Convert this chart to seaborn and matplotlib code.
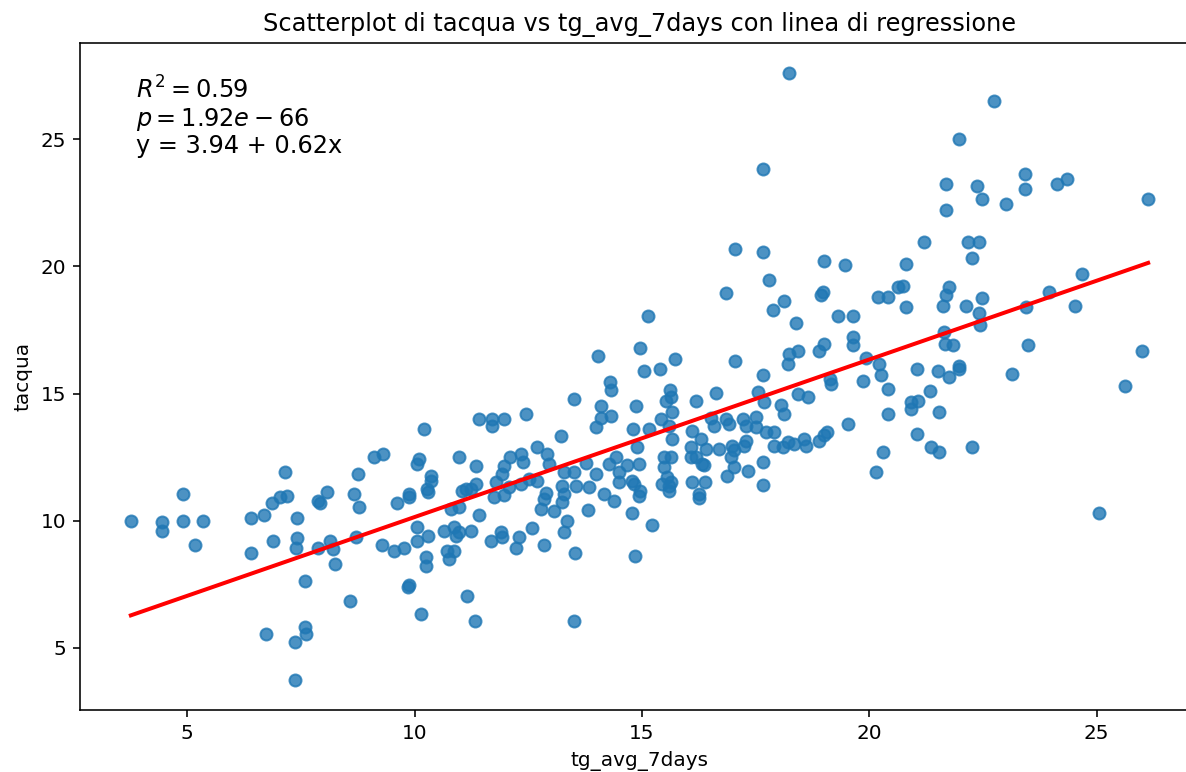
import matplotlib
matplotlib.use("Agg")
import matplotlib.pyplot as plt
import seaborn as sns
import pandas as pd

# Daily observations: 7-day mean air temperature vs water temperature
tg_avg_7days = [
    18.23, 17.66, 17.04, 17.66, 19.00, 19.47, 20.80, 22.73, 21.97, 21.68,
    21.68, 22.36, 22.48, 23.01, 23.43, 23.43, 24.12, 24.34, 26.13, 21.20,
    22.16, 22.42, 22.25, 24.67,
    17.79, 16.84, 18.97, 18.93, 18.12, 17.89, 18.38, 19.30, 19.63, 20.18,
    20.40, 20.62, 20.73, 20.80, 15.14, 14.95, 15.04, 15.39, 15.72, 17.04,
    18.23, 18.42, 18.22, 19.00, 18.89, 19.63, 19.63, 19.92, 20.21, 20.25,
    19.13, 19.15, 19.85, 20.40, 20.40, 19.52, 20.29, 20.14, 17.67, 17.54,
    17.68, 16.62, 16.18, 15.62, 15.52, 15.63, 14.86, 18.42, 18.64, 18.05,
    18.12, 15.41, 15.67, 15.59, 16.51, 16.58, 16.84, 16.91, 17.21, 17.28,
    17.50, 17.50, 17.72, 17.90, 14.80, 15.15, 15.67, 16.11, 16.29, 16.07,
    16.40, 16.69, 16.99, 17.02, 17.24, 17.28, 17.90, 18.09, 18.20, 18.34,
    18.56, 18.60, 18.89, 19.00, 19.06, 14.90, 14.93, 15.48, 15.63, 15.48,
    15.56, 15.63, 15.59, 16.07, 16.18, 16.33, 16.36, 16.95, 17.02, 16.88,
    17.32, 17.67, 17.67, 16.11, 16.38, 16.25, 14.82, 14.95, 15.45, 15.59,
    23.94, 24.52, 23.44, 23.48, 23.13, 25.99, 25.63, 22.47, 22.40, 22.43,
    22.12, 21.75, 21.68, 21.62, 21.64, 21.66, 21.83, 21.04, 21.50, 21.75,
    21.96, 21.98, 21.33, 20.91, 21.06, 20.91, 21.53, 21.04, 21.35, 21.53,
    22.25, 25.04,
    14.04, 14.29, 14.31, 13.50, 14.09, 14.31, 14.10, 13.98, 12.44, 11.41,
    11.71, 11.96, 11.71, 10.20, 13.22, 12.70, 12.92, 12.09, 12.34, 12.38,
    10.97, 11.34, 11.96, 11.92, 9.10, 9.31, 10.09, 10.05, 8.75, 10.37,
    10.35, 11.12, 11.34, 9.87, 10.28, 12.95, 13.28, 13.50, 13.76, 13.98,
    14.27, 14.42, 14.49, 14.68, 14.79, 13.25, 13.54, 13.83, 14.16, 14.49,
    12.70, 12.33, 12.51, 11.78, 12.07,
    7.16, 4.90, 7.03, 7.19, 8.07, 8.66, 3.76, 4.44, 4.44, 4.90,
    5.34, 5.16, 6.40, 6.68, 6.86, 7.41, 6.40, 6.88, 7.41, 7.40,
    7.88, 7.91, 8.77, 7.88, 8.15, 8.20, 8.72, 8.24, 7.60, 8.57,
    6.74, 7.60, 7.62, 7.38, 7.38,
    9.61, 9.87, 10.30, 9.28, 9.54, 9.76, 10.05, 10.05, 10.30, 10.26,
    10.26, 9.87, 9.85, 10.15, 10.64, 10.86, 10.90, 10.97, 11.23, 10.71,
    10.86, 10.75, 10.79, 10.97, 11.41, 11.04, 11.23, 11.15, 11.32, 11.67,
    11.89, 11.92, 12.22, 12.29, 12.59, 12.84, 11.74, 11.96, 12.77, 13.06,
    12.84, 12.88, 13.24, 13.28, 13.36, 13.28, 13.52, 13.50, 13.82, 14.38,
    14.77, 14.84, 14.93, 15.21, 16.25,
]

tacqua = [
    27.60, 23.85, 20.67, 20.57, 20.20, 20.05, 20.08, 26.51, 25.03, 23.24,
    22.24, 23.15, 22.64, 22.44, 23.65, 23.03, 23.23, 23.44, 22.64, 20.96,
    20.96, 20.96, 20.35, 19.70,
    19.48, 18.96, 18.99, 18.86, 18.66, 18.27, 17.77, 18.07, 18.07, 18.80,
    18.80, 19.19, 19.25, 18.40, 18.07, 16.80, 15.88, 15.97, 16.37, 16.28,
    16.54, 16.67, 16.17, 16.96, 16.67, 17.22, 16.89, 16.41, 16.17, 15.71,
    15.58, 15.38, 15.51, 15.19, 14.20, 13.81, 12.69, 11.91, 15.71, 15.06,
    14.66, 15.02, 14.72, 15.15, 14.72, 14.86, 14.49, 14.99, 14.86, 14.53,
    14.20, 14.00, 14.27, 13.74, 14.04, 13.74, 14.00, 13.81, 14.00, 13.74,
    14.07, 13.68, 13.48, 13.48, 13.61, 13.61, 13.22, 13.54, 13.22, 12.91,
    12.82, 12.82, 12.95, 12.76, 12.95, 13.15, 12.95, 12.89, 13.09, 13.02,
    13.22, 12.95, 13.15, 13.35, 13.48, 12.89, 12.23, 12.50, 12.52, 12.10,
    11.71, 11.51, 11.38, 12.52, 12.52, 12.23, 12.17, 12.50, 12.10, 11.77,
    11.97, 12.30, 11.40, 11.51, 11.51, 11.05, 11.44, 11.18, 11.44, 11.18,
    18.99, 18.46, 18.40, 16.89, 15.78, 16.67, 15.29, 18.77, 18.16, 17.68,
    18.46, 19.19, 18.86, 18.46, 17.42, 16.96, 16.89, 15.97, 15.88, 15.67,
    16.10, 15.97, 15.09, 14.66, 14.72, 14.40, 14.29, 13.39, 12.91, 12.69,
    12.91, 10.30,
    16.47, 15.45, 15.15, 14.79, 14.49, 14.10, 14.04, 13.68, 14.20, 14.00,
    14.00, 14.00, 13.74, 13.61, 13.31, 12.91, 12.63, 12.52, 12.63, 12.30,
    12.52, 12.13, 12.13, 11.84, 12.52, 12.63, 12.43, 12.23, 11.82, 11.77,
    11.57, 11.25, 11.44, 11.05, 11.25, 12.23, 11.91, 11.91, 12.26, 11.84,
    12.23, 12.50, 11.91, 12.17, 11.57, 11.38, 11.38, 11.31, 11.05, 11.51,
    11.57, 11.44, 11.64, 11.51, 11.31,
    11.90, 11.05, 10.92, 10.98, 11.14, 11.05, 10.00, 9.94, 9.61, 10.00,
    10.00, 9.02, 10.11, 10.22, 10.70, 10.11, 8.72, 9.21, 9.32, 8.93,
    10.79, 10.70, 10.53, 8.91, 9.21, 8.89, 9.35, 8.30, 7.61, 6.83,
    5.54, 5.80, 5.54, 5.24, 3.74,
    10.70, 10.92, 11.14, 9.02, 8.82, 8.91, 9.74, 9.21, 9.41, 8.56,
    8.20, 7.47, 7.38, 6.33, 9.61, 9.74, 9.41, 9.54, 9.61, 8.82,
    8.82, 8.49, 10.46, 10.53, 10.22, 11.18, 11.25, 7.05, 6.04, 9.21,
    9.54, 9.35, 8.91, 9.35, 9.70, 9.02, 10.92, 11.01, 10.46, 10.39,
    10.85, 11.09, 10.72, 11.05, 10.00, 9.54, 8.73, 6.04, 10.43, 10.79,
    10.30, 8.62, 10.98, 9.83, 10.89,
]

# Fitted regression summary
r_squared = 0.59
p_value_text = "1.92e-66"
intercept = 3.94
slope = 0.62

df = pd.DataFrame({"tg_avg_7days": tg_avg_7days, "tacqua": tacqua})

fig = plt.figure(figsize=(1186 / 144, 772 / 144), dpi=144)
ax = fig.add_axes([80 / 1186, 62 / 772, 1119 / 1186, 667 / 772])

sns.regplot(data=df, x="tg_avg_7days", y="tacqua", fit_reg=False,
            color="#1f77b4", ax=ax)

# Regression line over the observed temperature range
x_min, x_max = df["tg_avg_7days"].min(), df["tg_avg_7days"].max()
line_df = pd.DataFrame({"x": [x_min, x_max]})
line_df["y"] = intercept + slope * line_df["x"]
sns.lineplot(data=line_df, x="x", y="y", color="red", linewidth=2, ax=ax)

ax.text(0.05, 0.95,
        f"$R^2 = {r_squared:.2f}$\n$p = {p_value_text}$\n"
        f"y = {intercept:.2f} + {slope:.2f}x",
        transform=ax.transAxes, fontsize=12, va="top", ha="left",
        linespacing=1.1)

ax.set_title("Scatterplot di tacqua vs tg_avg_7days con linea di regressione",
             fontsize=12)
ax.set_xlabel("tg_avg_7days")
ax.set_ylabel("tacqua")

fig.savefig("out.png", dpi=144)
